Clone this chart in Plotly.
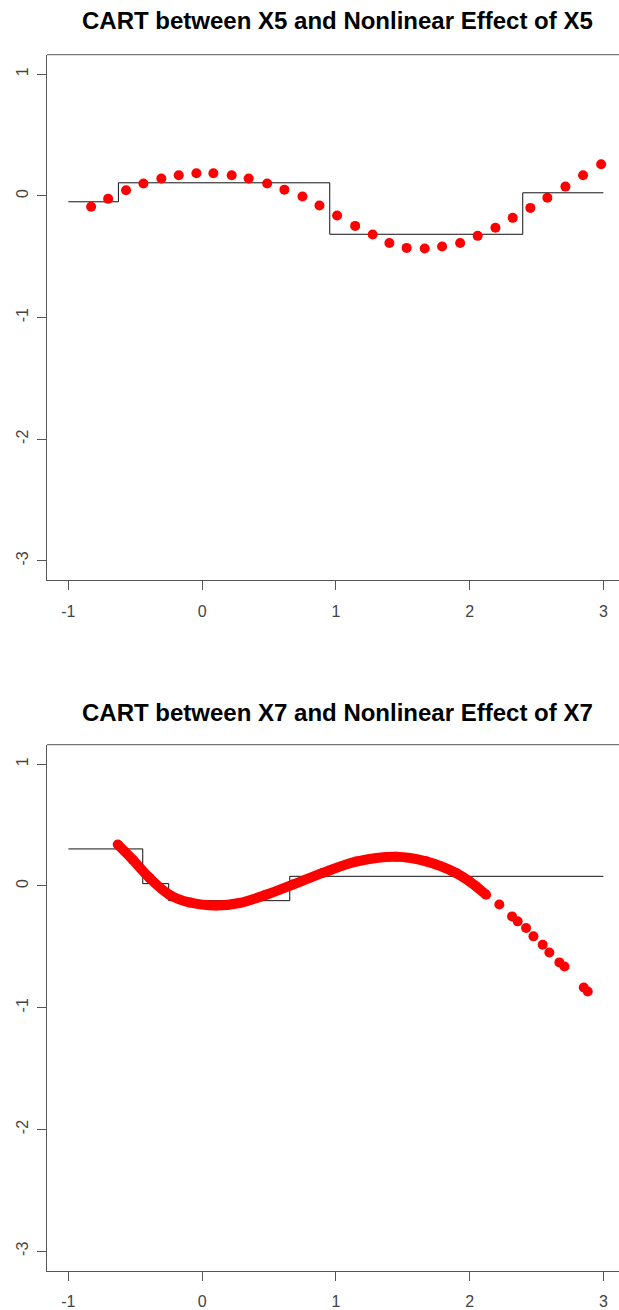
import plotly.graph_objects as go

# ---- X5: observed effect points ----
x5_x = [-0.830, -0.703, -0.569, -0.439, -0.305, -0.175, -0.043, 0.084, 0.221, 0.348,
        0.486, 0.615, 0.750, 0.877, 1.009, 1.144, 1.275, 1.400, 1.529, 1.664,
        1.794, 1.929, 2.060, 2.193, 2.322, 2.454, 2.581, 2.716, 2.848, 2.983]
x5_y = [-0.090, -0.025, 0.046, 0.101, 0.142, 0.169, 0.186, 0.186, 0.169, 0.142,
        0.101, 0.051, -0.006, -0.080, -0.162, -0.247, -0.318, -0.387, -0.428, -0.433,
        -0.417, -0.387, -0.329, -0.263, -0.181, -0.099, -0.016, 0.076, 0.169, 0.260]

# ---- X5: CART step fit ----
cart5_x = [-1.0, -0.626, 0.954, 2.397, 3.0]
cart5_y = [-0.049, 0.107, -0.316, 0.025, 0.025]

# ---- X7: observed effect points (dense section, then sparse tail) ----
x7_dense_x = [-0.631, -0.519, -0.394, -0.245, -0.095, 0.104, 0.278, 0.478, 0.677,
              0.901, 1.151, 1.450, 1.674, 1.898, 1.998, 2.048, 2.123]
x7_dense_y = [0.340, 0.216, 0.066, -0.072, -0.135, -0.160, -0.140, -0.072, 0.011,
              0.107, 0.200, 0.240, 0.202, 0.107, 0.038, -0.003, -0.072]
x7_tail_x = [2.222, 2.317, 2.359, 2.422, 2.477, 2.546, 2.596, 2.671, 2.709, 2.853, 2.883]
x7_tail_y = [-0.153, -0.250, -0.291, -0.345, -0.414, -0.483, -0.546, -0.628, -0.661, -0.834, -0.867]

# ---- X7: CART step fit ----
cart7_x = [-1.0, -0.444, -0.250, 0.655, 3.0]
cart7_y = [0.304, 0.019, -0.121, 0.079, 0.079]

titles = ["CART between X5 and Nonlinear Effect of X5",
          "CART between X7 and Nonlinear Effect of X7"]
x_ticks = [-1, 0, 1, 2, 3]
x_tick_text = ["-1", "0", "1", "2", "3"]
y_ticks = [-3, -2, -1, 0, 1]
y_tick_text = ["-3", "-2", "-1", "0", "1"]

W, H = 619, 1310
L = 47
AXIS = "#555555"
FONT = "Liberation Sans, Arial, sans-serif"

fig = go.Figure()

# top panel
fig.add_trace(go.Scatter(x=cart5_x, y=cart5_y, mode="lines", line_shape="hv",
                         line=dict(color="#111111", width=1), xaxis="x", yaxis="y",
                         hoverinfo="skip"))
fig.add_trace(go.Scatter(x=x5_x, y=x5_y, mode="markers",
                         marker=dict(color="#ff0000", size=10), xaxis="x", yaxis="y"))

# bottom panel
fig.add_trace(go.Scatter(x=cart7_x, y=cart7_y, mode="lines", line_shape="hv",
                         line=dict(color="#111111", width=1), xaxis="x2", yaxis="y2",
                         hoverinfo="skip"))
fig.add_trace(go.Scatter(x=x7_dense_x, y=x7_dense_y, mode="lines+markers",
                         line=dict(color="#ff0000", width=10, shape="spline"),
                         marker=dict(color="#ff0000", size=10), xaxis="x2", yaxis="y2"))
fig.add_trace(go.Scatter(x=x7_tail_x, y=x7_tail_y, mode="markers",
                         marker=dict(color="#ff0000", size=10), xaxis="x2", yaxis="y2"))

x_range = [-1.16, -1.16 + (W - L) / 133.75]
y_range = [-3.16, 1.16]

common_x = dict(range=x_range, tickvals=x_ticks, ticktext=x_tick_text, ticks="outside",
                ticklen=9, tickcolor=AXIS, tickwidth=1, showline=True, linecolor=AXIS,
                linewidth=1, showgrid=False, zeroline=False, ticklabelstandoff=7,
                tickfont=dict(family=FONT, size=16, color="#444444"))
common_y = dict(range=y_range, tickvals=y_ticks, ticktext=y_tick_text, ticks="outside",
                ticklen=9, tickcolor=AXIS, tickwidth=1, showline=True, linecolor=AXIS,
                linewidth=1, showgrid=False, zeroline=False, tickangle=-90,
                ticklabelstandoff=3,
                tickfont=dict(family=FONT, size=16, color="#444444"))

dom_top = [1 - 580.3 / H, 1 - 54.7 / H]
dom_bot = [1 - 1270.7 / H, 1 - 744.7 / H]

fig.update_layout(
    width=W, height=H,
    margin=dict(l=L, r=0, t=0, b=0),
    paper_bgcolor="white", plot_bgcolor="white",
    showlegend=False,
    xaxis=dict(domain=[0, 1], anchor="y", **common_x),
    yaxis=dict(domain=dom_top, anchor="x", **common_y),
    xaxis2=dict(domain=[0, 1], anchor="y2", **common_x),
    yaxis2=dict(domain=dom_bot, anchor="x2", **common_y),
    shapes=[
        dict(type="line", xref="x domain", yref="y domain", x0=0, x1=1, y0=1, y1=1,
             line=dict(color=AXIS, width=1)),
        dict(type="line", xref="x2 domain", yref="y2 domain", x0=0, x1=1, y0=1, y1=1,
             line=dict(color=AXIS, width=1)),
    ],
    annotations=[
        dict(text="<b>%s</b>" % titles[0], xref="paper", yref="paper",
             x=(337 - L) / (W - L), y=1 - 21 / H, xanchor="center", yanchor="middle",
             showarrow=False, font=dict(family=FONT, size=24, color="#000000")),
        dict(text="<b>%s</b>" % titles[1], xref="paper", yref="paper",
             x=(337 - L) / (W - L), y=1 - 712 / H, xanchor="center", yanchor="middle",
             showarrow=False, font=dict(family=FONT, size=24, color="#000000")),
    ],
)

fig.write_html("out.html")
